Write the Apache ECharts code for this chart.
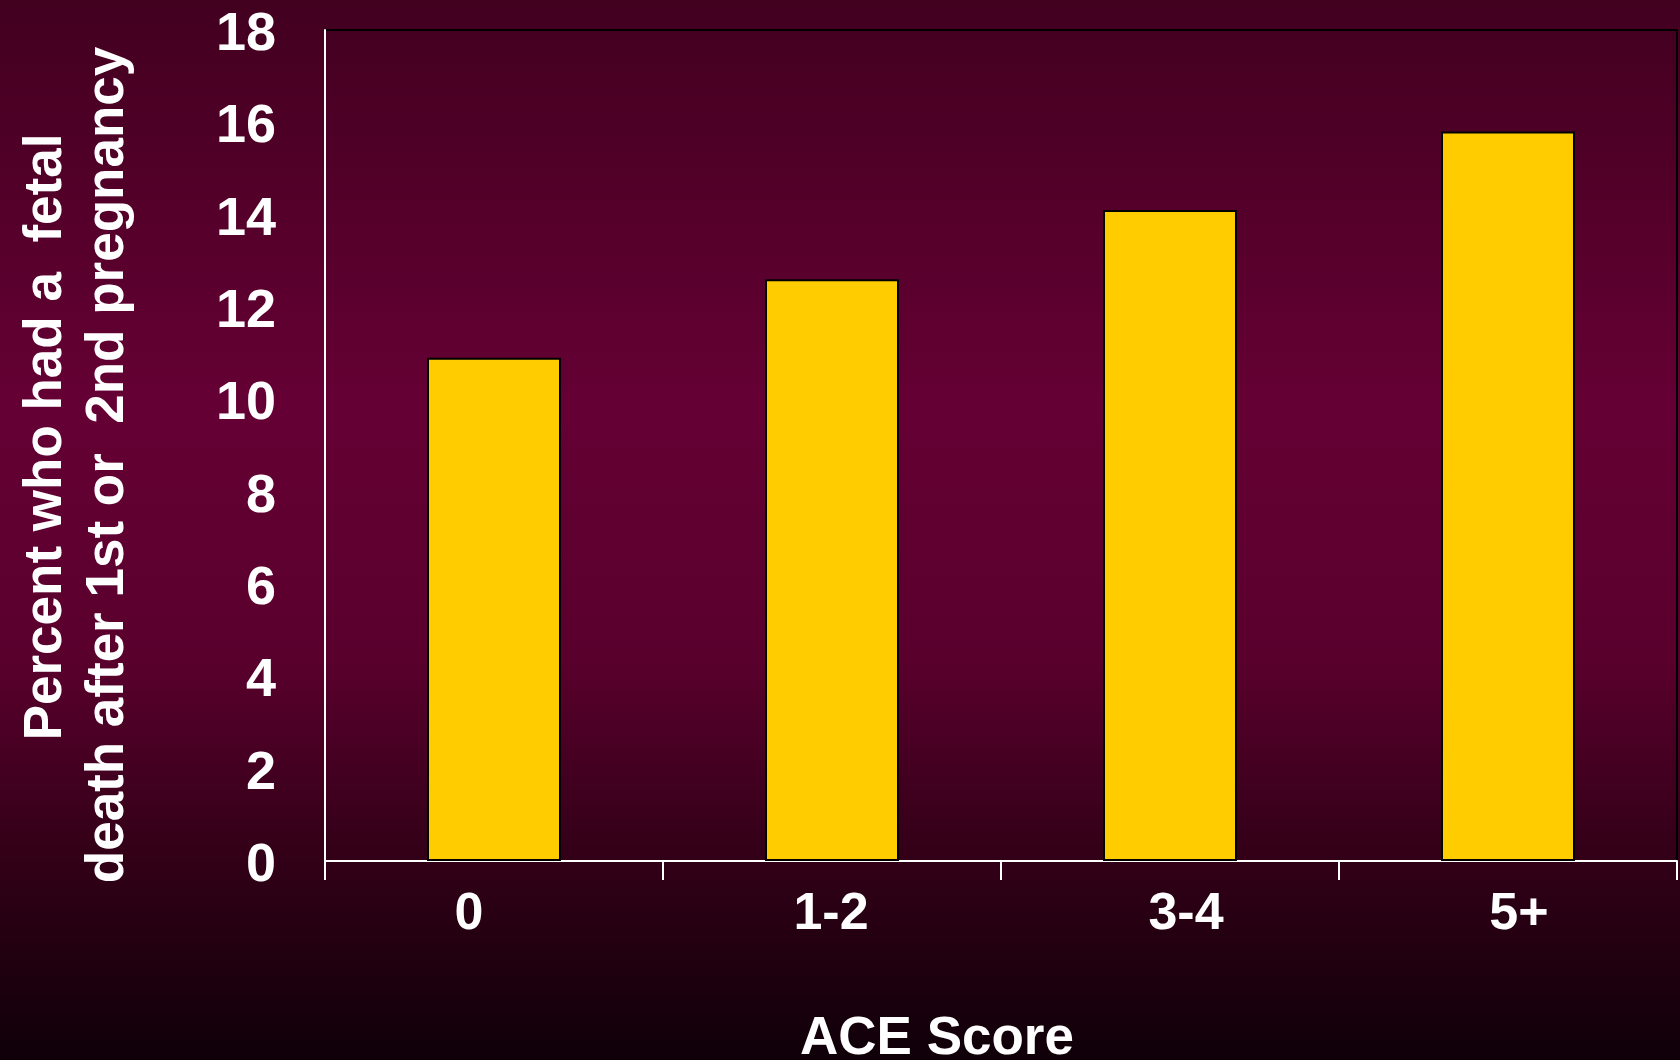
<!DOCTYPE html>
<html>
<head>
    <meta charset="UTF-8">
    <title>ACE Score - fetal death</title>
    <style>
        html, body {
            margin: 0;
            padding: 0;
            background: #2a0014;
        }

        #chart {
            width: 1680px;
            height: 1060px;
        }
    </style>
</head>
<body>
<div id="chart"></div>
<script src="https://cdn.jsdelivr.net/npm/echarts@6/dist/echarts.min.js"></script>
<script>
    // data
    var aceScores = ['0', '1-2', '3-4', '5+'];
    var fetalDeathPct = [10.9, 12.6, 14.1, 15.8];
    var yTicks = {min: 0, max: 18, step: 2};

    var font = 'Liberation Sans, Arial, sans-serif';
    // small nudges so the labels sit where the slide put them
    var labelPads = [[0, 50, 0, 0], [0, 2, 0, 0], [0, 0, 0, 32], [0, 0, 0, 22]];

    var chart = echarts.init(document.getElementById('chart'));

    var option = {
        animation: false
        , backgroundColor: {
            type: 'linear', x: 0, y: 0, x2: 0, y2: 1,
            colorStops: [
                {offset: 0, color: '#42001f'},
                {offset: 0.38, color: '#650034'},
                {offset: 0.62, color: '#5a002d'},
                {offset: 0.8, color: '#340018'},
                {offset: 1, color: '#0f0008'}
            ]
        }
        , grid: {
            left: 325, top: 30, right: 3, bottom: 199,
            show: true,
            borderColor: '#000',
            borderWidth: 2,
            backgroundColor: 'transparent'
        }
        , xAxis: {
            type: 'category'
            , data: aceScores.map(function (c, i) {
                return {value: c, textStyle: {padding: labelPads[i]}};
            })
            , boundaryGap: true
            , axisLine: {lineStyle: {color: '#fff', width: 2}}
            , axisTick: {show: true, length: 19, lineStyle: {color: '#fff', width: 2}}
            , axisLabel: {
                color: '#fff', fontFamily: font, fontWeight: 'bold', fontSize: 52,
                margin: 28, interval: 0
            }
            , splitLine: {show: false}
        }
        , yAxis: {
            type: 'value'
            , min: yTicks.min
            , max: yTicks.max
            , interval: yTicks.step
            , axisLine: {show: true, lineStyle: {color: '#fff', width: 2}}
            , axisTick: {show: false}
            , axisLabel: {
                margin: 49,
                formatter: '{v|{value}}',
                rich: {
                    v: {
                        color: '#fff', fontFamily: font, fontWeight: 'bold', fontSize: 54,
                        padding: [10, 0, 0, 0]
                    }
                }
            }
            , splitLine: {show: false}
        }
        , series: [{
            type: 'bar'
            , data: fetalDeathPct
            , barWidth: 134
            , itemStyle: {color: '#ffcc00', borderColor: '#000', borderWidth: 2}
        }]
        , graphic: [
            {
                type: 'text', x: 46, y: 437, rotation: Math.PI / 2,
                style: {
                    text: 'Percent who had a  fetal', fill: '#fff',
                    font: 'bold 53px ' + font, align: 'center', verticalAlign: 'middle'
                }
            },
            {
                type: 'text', x: 108, y: 465, rotation: Math.PI / 2,
                style: {
                    text: 'death after 1st or  2nd pregnancy', fill: '#fff',
                    font: 'bold 53px ' + font, align: 'center', verticalAlign: 'middle'
                }
            },
            {
                type: 'text', x: 937, y: 1039,
                style: {
                    text: 'ACE Score', fill: '#fff',
                    font: 'bold 53px ' + font, align: 'center', verticalAlign: 'middle'
                }
            }
        ]
    };

    chart.setOption(option);
    window.onresize = chart.resize;
</script>
</body>
</html>
